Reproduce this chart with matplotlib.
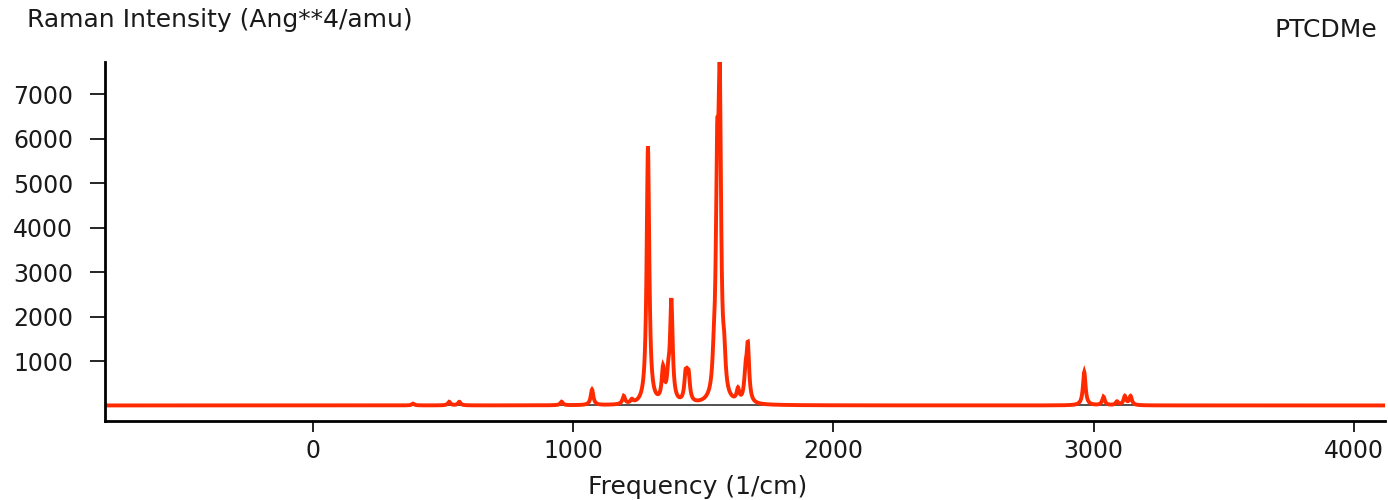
import numpy as np
import matplotlib
matplotlib.use("Agg")
import matplotlib.pyplot as plt

# Stick data (frequency in 1/cm, peak intensity)
freqs = [384, 523, 562, 955, 1072, 1194, 1225, 1287, 1345, 1365, 1377,
         1432, 1443, 1540, 1553, 1563, 1580, 1633, 1662, 1671,
         2964, 3038, 3090, 3120, 3142]
heights = [40, 80, 80, 80, 350, 180, 80, 5800, 720, 450, 2250,
           620, 600, 500, 4500, 6450, 700, 270, 550, 1220,
           750, 190, 80, 200, 200]
hwhm = 6.0

x_ticks = [0, 1000, 2000, 3000, 4000]
y_ticks = [1000, 2000, 3000, 4000, 5000, 6000, 7000]
xlim = (-800, 4120)
ylim = (-350, 7730)

title_left = "Raman Intensity (Ang**4/amu)"
title_right = "PTCDMe"
xlabel = "Frequency (1/cm)"

grid = np.arange(xlim[0], xlim[1] + 1, 1.0)
spec = np.zeros_like(grid)
for f, h in zip(freqs, heights):
    spec += h / (1.0 + ((grid - f) / hwhm) ** 2)

fig = plt.figure(figsize=(13.88, 5.0), dpi=100)
ax = fig.add_axes([105 / 1388, 1 - 421 / 500, (1385 - 105) / 1388, (421 - 62) / 500])

red = "#ff2a00"
ax.axhline(0, color="#333333", lw=1.2, zorder=1)
ax.plot(grid, spec, color=red, lw=2.8, zorder=2, solid_joinstyle="miter")

ax.set_xlim(*xlim)
ax.set_ylim(*ylim)
ax.set_xticks(x_ticks)
ax.set_yticks(y_ticks)
ax.set_xticklabels([str(v) for v in x_ticks])
ax.set_yticklabels([str(v) for v in y_ticks])

for s in ["top", "right"]:
    ax.spines[s].set_visible(False)
for s in ["left", "bottom"]:
    ax.spines[s].set_linewidth(2.0)
    ax.spines[s].set_color("black")

fs = 17
ax.tick_params(axis="both", direction="out", width=1.2,
               labelsize=fs, colors="black", labelcolor="#1a1a1a")
ax.tick_params(axis="y", length=11, pad=12)
ax.tick_params(axis="x", length=8, pad=5)

fig.text(27 / 1388, 1 - 20 / 500, title_left, fontsize=18, color="#1a1a1a",
         ha="left", va="center")
fig.text(1377 / 1388, 1 - 30 / 500, title_right, fontsize=18, color="#1a1a1a",
         ha="right", va="center")
fig.text(698 / 1388, 1 - 487 / 500, xlabel, fontsize=18, color="#1a1a1a",
         ha="center", va="center")

fig.savefig("out.png", dpi=100)
